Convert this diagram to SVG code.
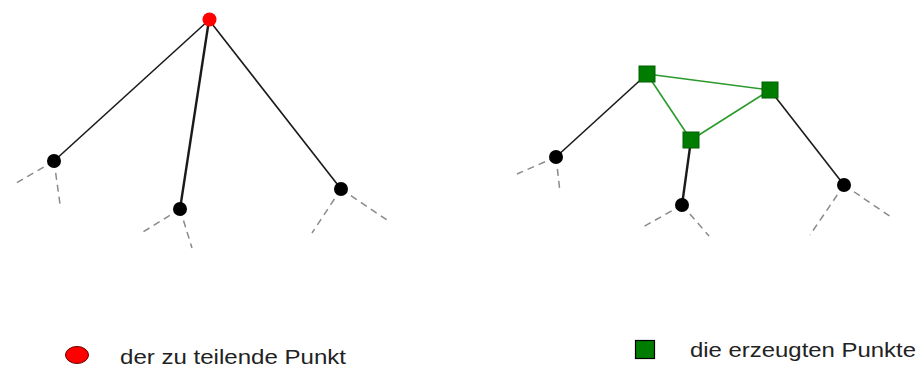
<svg xmlns="http://www.w3.org/2000/svg" width="921" height="367" viewBox="0 0 921 367">
<style>
.edge{stroke:#1a1a1a;stroke-width:1.6;fill:none}
.thick{stroke-width:2.4}
.dash{stroke:#8a8a8a;stroke-width:1.5;stroke-dasharray:7 5;fill:none}
.gedge{stroke:#2a9a2a;stroke-width:1.6;fill:none}
.node{fill:#000}
.red{fill:#ff0000}
.sq{fill:#007c00;stroke:#006000;stroke-width:1}
.lbl{font-family:"Liberation Sans",Arial,sans-serif;fill:#222}
</style>
<rect width="921" height="367" fill="#fff"/>
<g id="connectors">
<line class="edge" x1="209" y1="20" x2="54" y2="161"/>
<line class="edge thick" x1="209" y1="20" x2="180" y2="209"/>
<line class="edge" x1="209" y1="20" x2="341" y2="189"/>
<line class="dash" x1="54" y1="161" x2="13" y2="185"/>
<line class="dash" x1="54" y1="161" x2="60" y2="204"/>
<line class="dash" x1="180" y1="209" x2="143" y2="232"/>
<line class="dash" x1="180" y1="209" x2="192" y2="248"/>
<line class="dash" x1="341" y1="189" x2="312" y2="233"/>
<line class="dash" x1="341" y1="189" x2="387" y2="220"/>
<line class="edge" x1="647" y1="74" x2="556" y2="157"/>
<line class="edge thick" x1="691" y1="140" x2="682" y2="205"/>
<line class="edge" x1="770" y1="90" x2="844" y2="185"/>
<line class="gedge" x1="647" y1="74" x2="770" y2="90"/>
<line class="gedge" x1="647" y1="74" x2="691" y2="140"/>
<line class="gedge" x1="691" y1="140" x2="770" y2="90"/>
<line class="dash" x1="556" y1="157" x2="517" y2="174"/>
<line class="dash" x1="556" y1="157" x2="560" y2="192"/>
<line class="dash" x1="682" y1="205" x2="643" y2="227"/>
<line class="dash" x1="682" y1="205" x2="709" y2="236"/>
<line class="dash" x1="844" y1="185" x2="810" y2="235"/>
<line class="dash" x1="844" y1="185" x2="891" y2="217"/>
</g>
<g id="n-split"><circle class="red" cx="209.5" cy="19.5" r="7"/></g>
<g id="n-l1"><circle class="node" cx="54" cy="161" r="7"/></g>
<g id="n-l2"><circle class="node" cx="180" cy="209" r="7"/></g>
<g id="n-l3"><circle class="node" cx="341" cy="189" r="7"/></g>
<g id="n-g1"><rect class="sq" x="639" y="66" width="16" height="16"/></g>
<g id="n-g2"><rect class="sq" x="762" y="82" width="16" height="16"/></g>
<g id="n-g3"><rect class="sq" x="683" y="132" width="16" height="16"/></g>
<g id="n-r1"><circle class="node" cx="556" cy="157" r="7"/></g>
<g id="n-r2"><circle class="node" cx="682" cy="205" r="7"/></g>
<g id="n-r3"><circle class="node" cx="844" cy="185" r="7"/></g>
<g id="legend-red">
<ellipse cx="77" cy="355" rx="11.5" ry="8.5" fill="#ff0000" stroke="#600" stroke-width="1"/>
<text class="lbl" x="120" y="364" font-size="20" textLength="226" lengthAdjust="spacingAndGlyphs">der zu teilende Punkt</text>
</g>
<g id="legend-green">
<rect x="635.5" y="340.5" width="19" height="18" fill="#007c00" stroke="#000" stroke-width="1.2"/>
<text class="lbl" x="690" y="357" font-size="20" textLength="226" lengthAdjust="spacingAndGlyphs">die erzeugten Punkte</text>
</g>
</svg>
